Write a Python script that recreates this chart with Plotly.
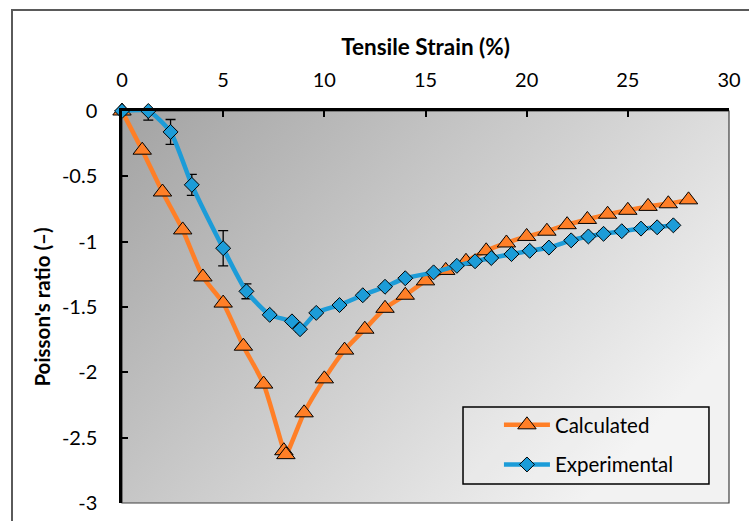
import base64
import plotly.graph_objects as go

# ---- data ----
calc_x = [0, 1, 2, 3, 4, 5, 6, 7, 8, 8.1, 9, 10, 11, 12, 13, 14, 15, 16, 17, 18,
          19, 20, 21, 22, 23, 24, 25, 26, 27, 28]
calc_y = [0, -0.30, -0.62, -0.91, -1.27, -1.47, -1.80, -2.09, -2.60, -2.63, -2.31,
          -2.05, -1.83, -1.67, -1.51, -1.41, -1.30, -1.22, -1.15, -1.07, -1.01,
          -0.96, -0.92, -0.87, -0.83, -0.79, -0.76, -0.73, -0.71, -0.68]

exp_x = [0, 1.3, 2.4, 3.45, 5.0, 6.15, 7.3, 8.4, 8.8, 9.6, 10.75, 11.9, 13.0, 14.0,
         15.4, 16.55, 17.45, 18.25, 19.25, 20.15, 21.1, 22.2, 23.05, 23.8, 24.7,
         25.65, 26.45, 27.25]
exp_y = [0, 0, -0.16, -0.565, -1.05, -1.38, -1.56, -1.61, -1.67, -1.545, -1.485,
         -1.41, -1.345, -1.28, -1.235, -1.185, -1.15, -1.125, -1.095, -1.07, -1.045,
         -0.99, -0.96, -0.94, -0.92, -0.90, -0.89, -0.875]
exp_err = [0, 0.07, 0.095, 0.08, 0.135, 0.057, 0.02, 0.02, 0.02, 0.02, 0.02, 0.02,
           0.02, 0.02, 0.02, 0.02, 0.02, 0.02, 0.02, 0.02, 0.02, 0.02, 0.02, 0.02,
           0.02, 0.02, 0.02, 0.02]

x_ticks = [0, 5, 10, 15, 20, 25, 30]
y_ticks = [0, -0.5, -1, -1.5, -2, -2.5, -3]
y_ticktext = ["0", "-0.5", "-1", "-1.5", "-2", "-2.5", "-3"]

ORANGE = "#FF7F27"
BLUE = "#1C9CD8"
FONT = "Lato"

fig = go.Figure()
fig.add_trace(go.Scatter(
    x=calc_x, y=calc_y, name="Calculated", mode="lines+markers",
    line=dict(color=ORANGE, width=4.5, shape="spline", smoothing=0.6),
    marker=dict(symbol="triangle-up", size=16, color=ORANGE,
                line=dict(color="black", width=1)),
    cliponaxis=False, legendgroup="a",
))
fig.add_trace(go.Scatter(
    x=exp_x, y=exp_y, name="Experimental", mode="lines+markers",
    line=dict(color=BLUE, width=4.5, shape="spline", smoothing=0.6),
    marker=dict(symbol="diamond", size=11.5, color=BLUE,
                line=dict(color="black", width=1)),
    error_y=dict(type="data", array=exp_err, color="black", thickness=1.3, width=5),
    cliponaxis=False, legendgroup="b",
))

svg = ('<svg xmlns="http://www.w3.org/2000/svg" width="600" height="400" '
       'viewBox="0 0 600 400" preserveAspectRatio="none"><defs>'
       '<linearGradient id="g" x1="0" y1="0" x2="1" y2="0.6">'
       '<stop offset="0" stop-color="#a3a3a3"/><stop offset="1" stop-color="#f2f2f2"/>'
       '</linearGradient></defs><rect width="600" height="400" fill="url(#g)"/></svg>')
src = "data:image/svg+xml;base64," + base64.b64encode(svg.encode()).decode()

fig.update_layout(
    width=749, height=521,
    margin=dict(l=122, r=20, t=111, b=18, autoexpand=False),
    paper_bgcolor="white", plot_bgcolor="rgba(0,0,0,0)",
    font=dict(family=FONT, size=20, color="black"),
    showlegend=True,
    legend=dict(x=0.621, y=0.250, xanchor="left", yanchor="top",
                bgcolor="rgba(0,0,0,0)", borderwidth=0, itemwidth=46,
                tracegroupgap=10, font=dict(size=20.5)),
    images=[dict(source=src, xref="paper", yref="paper", x=0, y=1, sizex=1, sizey=1,
                 xanchor="left", yanchor="top", sizing="stretch", layer="below")],
    shapes=[
        dict(type="rect", xref="paper", yref="paper", x0=0, y0=0, x1=1, y1=1,
             line=dict(color="#404040", width=1.2), layer="below"),
        # outer chart frame (clipped by the page on the right and bottom)
        dict(type="rect", xref="paper", yref="paper",
             xsizemode="pixel", xanchor=0, x0=-110, x1=650,
             ysizemode="pixel", yanchor=1, y0=-440, y1=101,
             line=dict(color="#5a5a5a", width=2), layer="below"),
        dict(type="rect", xref="paper", yref="paper", x0=0.5618, y0=0.0485,
             x1=0.967, y1=0.2449, line=dict(color="black", width=1.5),
             fillcolor="rgba(255,255,255,0.15)", layer="above"),
    ],
)
fig.update_xaxes(
    side="top", range=[0, 30], tickvals=x_ticks, ticks="inside", ticklen=6,
    tickwidth=1.5, tickcolor="black", showline=True, linecolor="black", linewidth=2.5,
    showgrid=False, zeroline=False, ticklabelstandoff=13, automargin=False,
    title=dict(text="<b>Tensile Strain (%)</b>", font=dict(size=22.5), standoff=6),
)
fig.update_yaxes(
    range=[-3, 0], tickvals=y_ticks, ticktext=y_ticktext, ticks="inside", ticklen=6,
    tickwidth=1.5, tickcolor="black", showline=True, linecolor="black", linewidth=2.5,
    showgrid=False, zeroline=False, ticklabelstandoff=18, automargin=False,
    title=dict(text="<b>Poisson's ratio (–)</b>", font=dict(size=20.5), standoff=6),
)

fig.write_html("out.html", config={"displayModeBar": False},
               post_script="document.body.style.margin='0';document.body.style.padding='0';")
